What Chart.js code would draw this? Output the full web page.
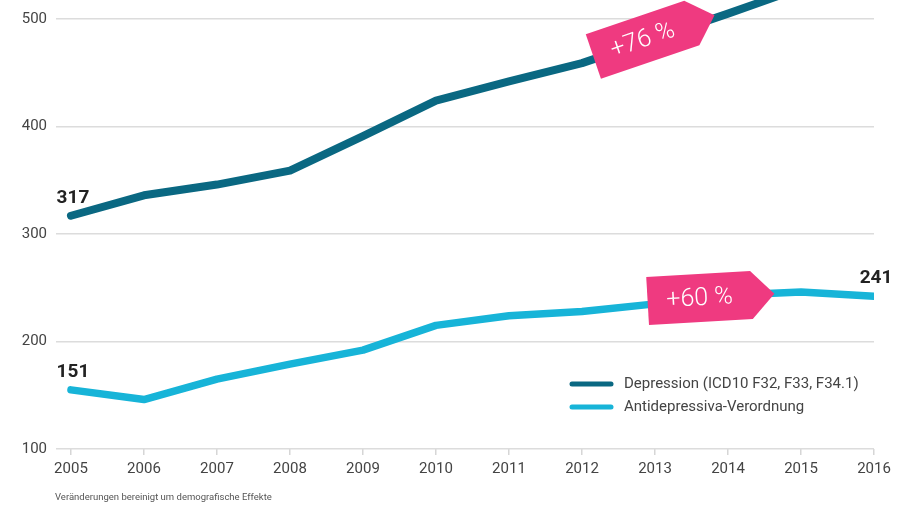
<!DOCTYPE html>
<html lang="de">
<head>
<meta charset="utf-8">
<title>Depression und Antidepressiva 2005–2016</title>
<script src="https://cdn.jsdelivr.net/npm/chart.js@4.4.1/dist/chart.umd.min.js"></script>
<style>
  html, body { margin: 0; padding: 0; background: #fff; }
  #wrap { width: 912px; height: 506px; }
</style>
</head>
<body>
<div id="wrap"><canvas id="chart" width="912" height="506"></canvas></div>
<script>
// ===== Daten =====
const jahre = [2005, 2006, 2007, 2008, 2009, 2010, 2011, 2012, 2013, 2014, 2015, 2016];
const depression = [317, 336, 346, 359, 391, 424, 442, 459, 482, 505, 529, 558];
const antidepressiva = [155, 146, 165, 179, 192, 215, 224, 228, 235, 243, 246, 242];
const yTicks = [100, 200, 300, 400, 500];
const serienNamen = ['Depression (ICD10 F32, F33, F34.1)', 'Antidepressiva-Verordnung'];
const wertLabels = [['317', null], ['151', '241']];   // erster / letzter Punkt
const zuwachs = ['+76 %', '+60 %'];
const fussnote = 'Veränderungen bereinigt um demografische Effekte';

const FONT = 'Roboto, "Open Sans", sans-serif';
const DUNKEL = '#0a6882';
const HELL = '#17b4d8';
const PINK = '#ef3a80';

// Preisschild-Pfeil (Position in Datenkoordinaten)
const schilder = [
  { x: 2012.83, y: 480.8, rot: -18.8, w: 104, h: 47, a: 24 },
  { x: 2013.61, y: 240.5, rot: -3.3, w: 104, h: 48, a: 23 }
];

const extras = {
  id: 'extras',
  afterDatasetsDraw(chart) {
    const { ctx, scales: { x, y } } = chart;

    // Werte am Anfang / Ende
    ctx.save();
    ctx.font = 'bold 19px ' + FONT;
    ctx.fillStyle = '#222';
    ctx.textAlign = 'center';
    ctx.textBaseline = 'alphabetic';
    chart.data.datasets.forEach((ds, i) => {
      const [erst, letzt] = wertLabels[i];
      if (erst) ctx.fillText(erst, x.getPixelForValue(jahre[0]) + 2, y.getPixelForValue(ds.data[0].y) - 13);
      if (letzt) {
        const n = ds.data.length - 1;
        ctx.fillText(letzt, x.getPixelForValue(jahre[n]) + 2, y.getPixelForValue(ds.data[n].y) - 13);
      }
    });
    ctx.restore();

    // Schilder
    schilder.forEach((s, i) => {
      const cx = x.getPixelForValue(s.x);
      const cy = y.getPixelForValue(s.y);
      ctx.save();
      ctx.translate(cx, cy);
      ctx.rotate(s.rot * Math.PI / 180);
      ctx.beginPath();
      ctx.moveTo(-s.w / 2, -s.h / 2);
      ctx.lineTo(s.w / 2, -s.h / 2);
      ctx.lineTo(s.w / 2 + s.a, 0);
      ctx.lineTo(s.w / 2, s.h / 2);
      ctx.lineTo(-s.w / 2, s.h / 2);
      ctx.closePath();
      ctx.fillStyle = PINK;
      ctx.fill();
      ctx.fillStyle = '#fff';
      ctx.font = '300 25px ' + FONT;
      ctx.textAlign = 'center';
      ctx.textBaseline = 'middle';
      ctx.fillText(zuwachs[i], 0, 1);
      ctx.restore();
    });
  },
  afterDraw(chart) {
    const ctx = chart.ctx;
    ctx.save();
    // Legende
    chart.data.datasets.forEach((ds, i) => {
      const ly = 384 + i * 23;
      ctx.strokeStyle = ds.borderColor;
      ctx.lineWidth = 5;
      ctx.lineCap = 'round';
      ctx.beginPath();
      ctx.moveTo(572, ly);
      ctx.lineTo(611, ly);
      ctx.stroke();
      ctx.fillStyle = '#444';
      ctx.font = '15px ' + FONT;
      ctx.textAlign = 'left';
      ctx.textBaseline = 'middle';
      ctx.fillText(ds.label, 624, ly);
    });
    // Fußnote
    ctx.font = '9.5px ' + FONT;
    ctx.fillStyle = '#555';
    ctx.textBaseline = 'alphabetic';
    ctx.fillText(fussnote, 55, 500);
    ctx.restore();
  }
};

function punkte(werte) {
  return werte.map((v, i) => ({ x: jahre[i], y: v }));
}

new Chart(document.getElementById('chart'), {
  type: 'line',
  data: {
    datasets: [
      { label: serienNamen[0], data: punkte(depression), borderColor: DUNKEL, borderWidth: 8 },
      { label: serienNamen[1], data: punkte(antidepressiva), borderColor: HELL, borderWidth: 7.5 }
    ]
  },
  options: {
    responsive: false,
    animation: false,
    devicePixelRatio: 1,
    layout: { padding: { top: 0, right: 38, bottom: 0, left: 0 } },
    elements: {
      point: { radius: 0, hoverRadius: 0 },
      line: { tension: 0, borderCapStyle: 'round', borderJoinStyle: 'round', fill: false }
    },
    plugins: { legend: { display: false }, tooltip: { enabled: false } },
    scales: {
      x: {
        type: 'linear',
        min: 2004.795,
        max: 2016,
        afterBuildTicks: s => { s.ticks = jahre.map(v => ({ value: v })); },
        afterFit: s => { s.height = 57; s.paddingLeft = 0; s.paddingRight = 0; },
        grid: { display: true, drawOnChartArea: false, drawTicks: true, tickLength: 6, color: '#d6d6d6', lineWidth: 1.5 },
        border: { display: false },
        ticks: { color: '#444', font: { family: FONT, size: 15 }, padding: 5, maxRotation: 0, callback: v => String(v) }
      },
      y: {
        min: 100,
        max: 517.7,
        afterBuildTicks: s => { s.ticks = yTicks.map(v => ({ value: v })); },
        afterFit: s => { s.width = 56; s.paddingTop = 0; s.paddingBottom = 0; },
        grid: { color: '#dcdcdc', lineWidth: 1.5, drawTicks: false },
        border: { display: false },
        ticks: { color: '#444', font: { family: FONT, size: 15 }, padding: 9 }
      }
    }
  },
  plugins: [extras]
});
</script>
</body>
</html>
